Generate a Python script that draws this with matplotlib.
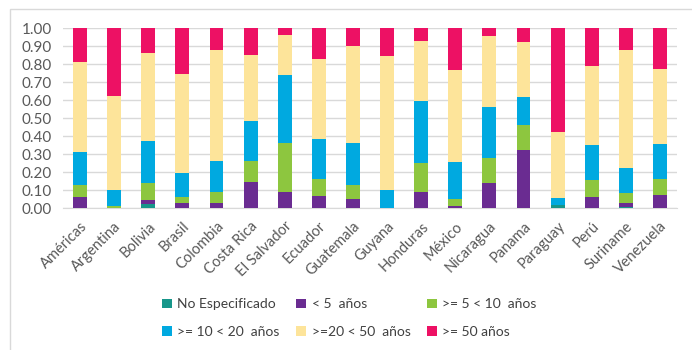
import numpy as np
import matplotlib.pyplot as plt
from matplotlib.patches import Rectangle

plt.rcParams['font.family'] = ['Lato', 'DejaVu Sans']

paises = ['Américas', 'Argentina', 'Bolivia', 'Brasil', 'Colombia', 'Costa Rica',
          'El Salvador', 'Ecuador', 'Guatemala', 'Guyana', 'Honduras', 'México',
          'Nicaragua', 'Panama', 'Paraguay', 'Perú', 'Suriname', 'Venezuela']

# share of each age group per country
no_especificado = [0.000, 0.000, 0.020, 0.000, 0.000, 0.000, 0.000, 0.000, 0.000,
                   0.000, 0.000, 0.000, 0.000, 0.000, 0.015, 0.000, 0.008, 0.000]
menos_5 = [0.060, 0.000, 0.025, 0.030, 0.030, 0.145, 0.090, 0.065, 0.050,
           0.000, 0.090, 0.010, 0.140, 0.320, 0.000, 0.060, 0.022, 0.075]
de_5_a_10 = [0.070, 0.010, 0.095, 0.030, 0.060, 0.115, 0.270, 0.095, 0.080,
             0.000, 0.160, 0.040, 0.140, 0.140, 0.000, 0.095, 0.055, 0.085]
de_10_a_20 = [0.180, 0.090, 0.230, 0.135, 0.170, 0.225, 0.380, 0.225, 0.230,
              0.100, 0.345, 0.205, 0.280, 0.155, 0.040, 0.195, 0.135, 0.195]
de_20_a_50 = [0.500, 0.520, 0.490, 0.550, 0.620, 0.365, 0.220, 0.445, 0.540,
              0.745, 0.335, 0.510, 0.395, 0.305, 0.365, 0.440, 0.660, 0.415]
mas_50 = [0.190, 0.380, 0.140, 0.255, 0.120, 0.150, 0.040, 0.170, 0.100,
          0.155, 0.070, 0.235, 0.045, 0.080, 0.580, 0.210, 0.120, 0.230]

series = [no_especificado, menos_5, de_5_a_10, de_10_a_20, de_20_a_50, mas_50]
etiquetas = ['No Especificado', '< 5  años', '>= 5 < 10  años',
             '>= 10 < 20  años', '>=20 < 50  años', '>= 50 años']
colores = ['#17968a', '#6a2c91', '#8dc63f', '#00a9e0', '#fde49a', '#ed1164']

fig = plt.figure(figsize=(6.92, 3.5), dpi=100)
ax = fig.add_axes([63 / 692, 1 - 208 / 350, 614 / 692, 180 / 350])

x = np.arange(len(paises))
base = np.zeros(len(paises))
barras = []
for vals, lab, col in zip(series, etiquetas, colores):
    barras.append(ax.bar(x, vals, 0.41, bottom=base, color=col, label=lab, zorder=3))
    base += np.array(vals)

ax.set_xlim(-0.5, len(paises) - 0.5)
ax.set_ylim(0, 1.0)
ax.set_yticks(np.arange(0, 1.01, 0.1))
ax.set_yticklabels([f'{v:.2f}' for v in np.arange(0, 1.01, 0.1)])
ax.yaxis.grid(True, color='#d9d9d9', linewidth=1, zorder=0)
ax.set_xticks(x)
ax.set_xticklabels(paises, rotation=45, ha='right', rotation_mode='anchor')
ax.tick_params(axis='both', length=0, colors='#595959')
ax.tick_params(axis='x', pad=8, labelsize=10.5)
ax.tick_params(axis='y', pad=8, labelsize=11)
for s in ['left', 'right', 'top']:
    ax.spines[s].set_visible(False)
ax.spines['bottom'].set_color('#d9d9d9')

# legend filled row by row (matplotlib fills by column)
orden = [0, 3, 1, 4, 2, 5]
leg = fig.legend([barras[i] for i in orden], [etiquetas[i] for i in orden],
                 loc='center', bbox_to_anchor=(0.505, 1 - 318 / 350), ncol=3,
                 frameon=False, fontsize=10, handlelength=0.7, handleheight=0.7,
                 handletextpad=0.4, columnspacing=1.2, labelspacing=1.1)
for t in leg.get_texts():
    t.set_color('#404040')

# light chart frame
fig.patches.append(Rectangle((10 / 692, -0.1), 1.1, 1 - 9 / 350 + 0.1,
                             transform=fig.transFigure, fill=False,
                             edgecolor='#d9d9d9', linewidth=1))

fig.savefig('out.png', dpi=100)
